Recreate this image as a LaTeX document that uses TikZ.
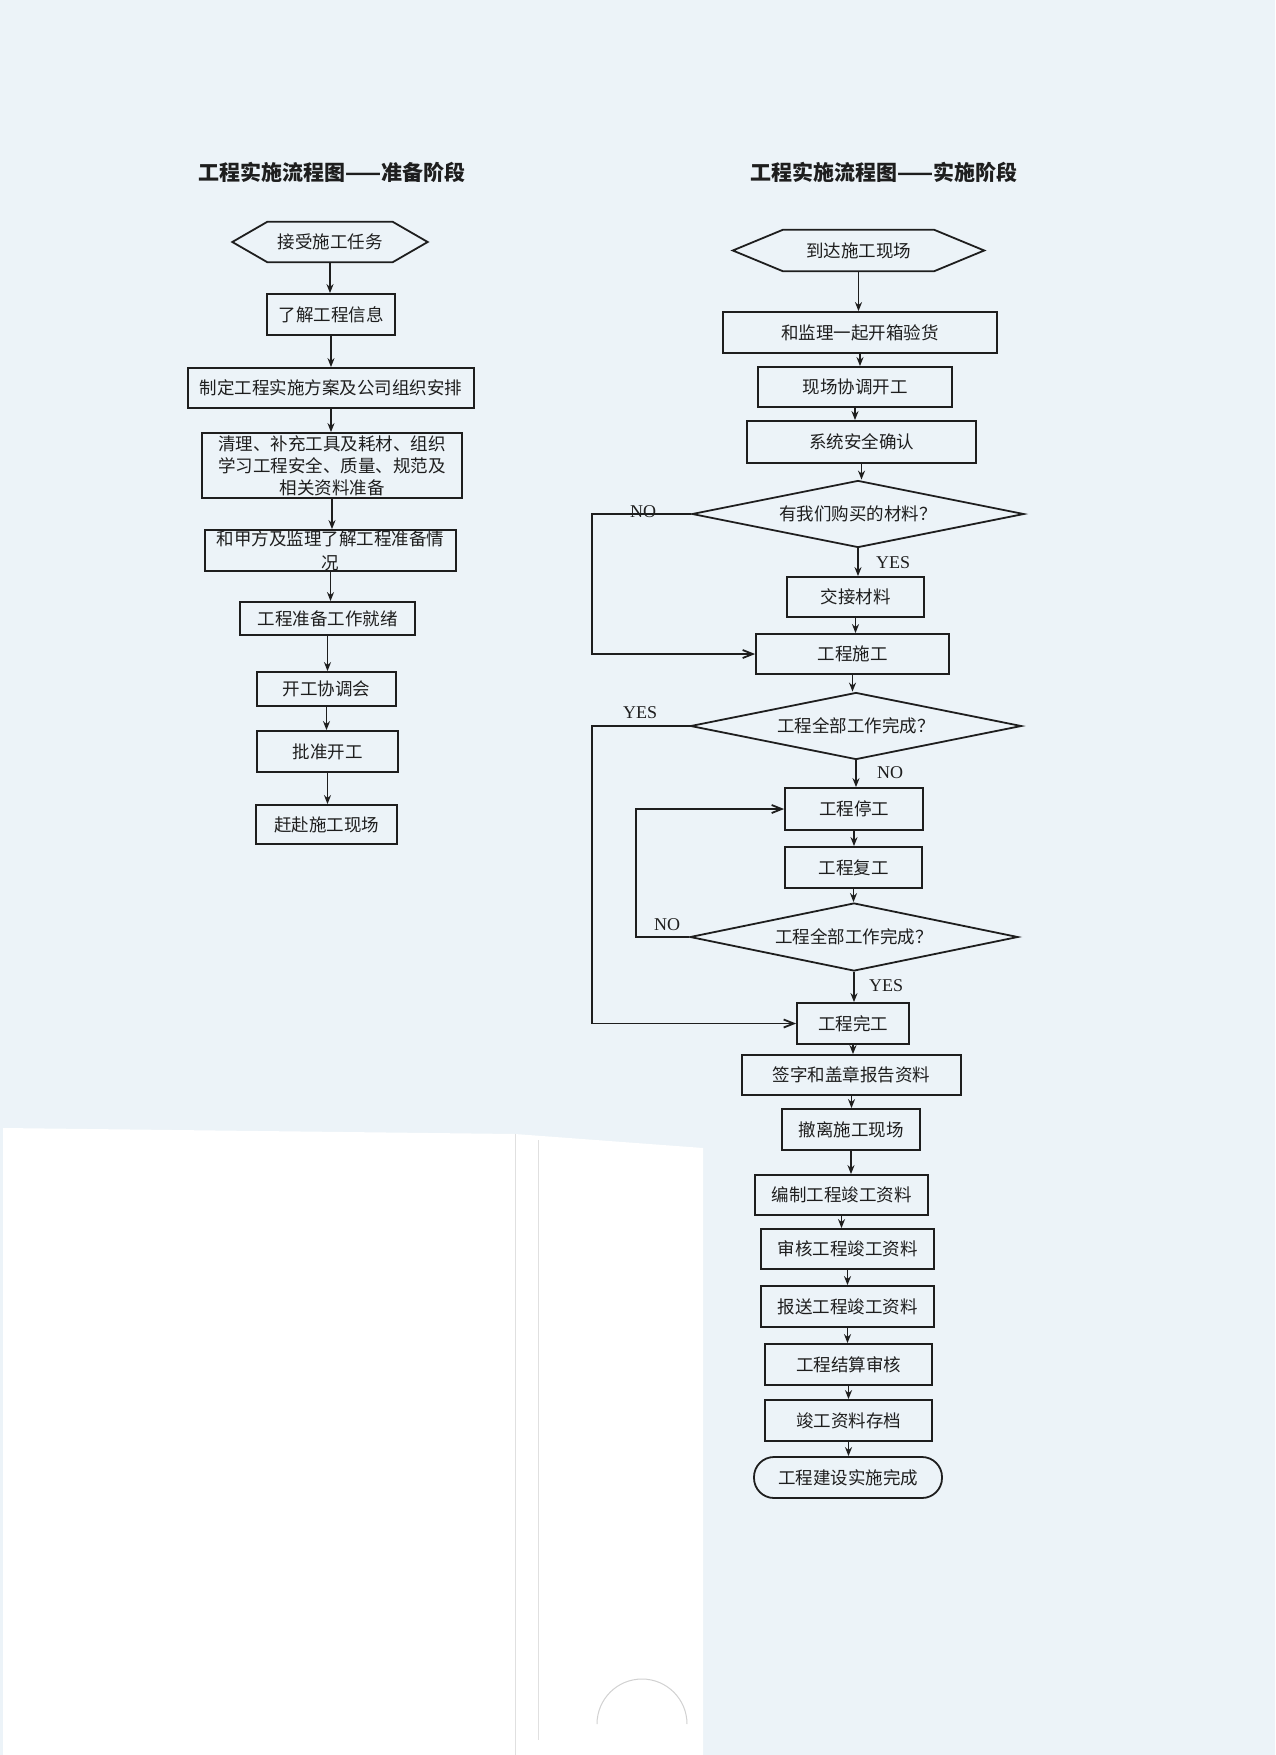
\documentclass[tikz,border=0pt]{standalone}
\usepackage{fontspec}
\setmainfont{Liberation Serif}
\newfontfamily\cjk{Noto Sans CJK SC}
\usepackage{tikz}
\usetikzlibrary{arrows.meta,shapes.geometric,calc}

\definecolor{scanbg}{RGB}{236,243,248}
\definecolor{ink}{RGB}{30,30,30}

\begin{document}
\begin{tikzpicture}[x=1pt,y=-1pt,
  line/.style={draw=ink,line width=1.8pt},
  box/.style={line,rectangle,inner sep=0pt,font=\cjk\fontsize{17.5}{22}\selectfont,text=ink,align=center},
  hexa/.style={rectangle,inner sep=0pt,font=\cjk\fontsize{17.5}{22}\selectfont,text=ink},
  dia/.style={line,diamond,aspect=4.9,inner sep=0pt,font=\cjk\fontsize{17.5}{22}\selectfont,text=ink},
  varr/.style={line,-{Stealth[length=9pt,width=7pt]}},
  harr/.style={line,-{Straight Barb[length=10pt,width=8pt]}},
  yn/.style={font=\fontsize{18}{20}\selectfont,text=ink},
  ttl/.style={font=\cjk\bfseries\fontsize{21}{24}\selectfont,text=ink}]
\useasboundingbox (0,0) rectangle (1275,1755);
% scanned page and the white sheet lying over its lower left
\fill[scanbg] (0,0) rectangle (1275,1755);
\fill[white] (3,1128) -- (515,1134) -- (703,1148) -- (703,1755) -- (3,1755) -- cycle;
\draw[black!12,line width=1pt] (515,1134) -- (515,1755);
\draw[black!12,line width=1pt] (538,1140) -- (538,1740);
\draw[black!18,line width=1pt] (597,1724) arc[start angle=180,end angle=360,radius=45];

% titles
\node[ttl] (tl) at (332,172) {工程实施流程图——准备阶段};
\node[ttl] (tr) at (884,172) {工程实施流程图——实施阶段};

% ---- preparation stage ----
\node[hexa,minimum width=195*1pt,minimum height=40*1pt] (l1) at (330,242) {接受施工任务};
\foreach \n/\x/\y/\w/\h/\t in {
  l2/331/314.5/128/41/{了解工程信息},
  l3/331/388/286/40/{制定工程实施方案及公司组织安排},
  l6/327.5/618.5/175/33/{工程准备工作就绪},
  l7/326.5/689/139/34/{开工协调会},
  l8/327.5/751.5/141/41/{批准开工},
  l9/326.5/824.5/141/39/{赶赴施工现场}}{
  \node[box,minimum width=\w*1pt,minimum height=\h*1pt] (\n) at (\x,\y) {\t};
}
\node[box,minimum width=260*1pt,minimum height=65*1pt] (l4) at (332,465.5)
  {清理、补充工具及耗材、组织\\学习工程安全、质量、规范及\\相关资料准备};
\node[box,minimum width=251*1pt,minimum height=41*1pt,font=\cjk\fontsize{17.5}{24}\selectfont] (l5) at (330.5,550.5)
  {和甲方及监理了解工程准备情\\况};

% ---- implementation stage ----
\node[hexa,minimum width=251*1pt,minimum height=41*1pt] (r1) at (858.5,250.5) {到达施工现场};
\foreach \n/\x/\y/\w/\h/\t in {
  r2/860/332.5/274/41/{和监理一起开箱验货},
  r3/855/387/194/40/{现场协调开工},
  r4/861.5/442/229/42/{系统安全确认},
  r5/855.5/597/137/40/{交接材料},
  r6/852.5/654/193/40/{工程施工},
  r7/854/809/138/42/{工程停工},
  r8/853.5/867.5/137/41/{工程复工},
  r9/853/1023.5/112/41/{工程完工},
  r10/851.5/1075/219/40/{签字和盖章报告资料},
  r11/851/1129.5/138/41/{撤离施工现场},
  r12/841.5/1195/173/40/{编制工程竣工资料},
  r13/847.5/1249/173/40/{审核工程竣工资料},
  r14/847.5/1306.5/173/41/{报送工程竣工资料},
  r15/848.5/1364.5/167/41/{工程结算审核},
  r16/848.5/1420.5/167/41/{竣工资料存档}}{
  \node[box,minimum width=\w*1pt,minimum height=\h*1pt] (\n) at (\x,\y) {\t};
}
\node[box,rounded corners=20pt,minimum width=188*1pt,minimum height=41*1pt] (r17) at (848,1477.5) {工程建设实施完成};
\node[dia,minimum width=332*1pt,minimum height=67*1pt] (d1) at (858,514) {有我们购买的材料？};
\node[dia,minimum width=331*1pt,minimum height=67*1pt] (d2) at (856,726) {工程全部工作完成？};
\node[dia,minimum width=328*1pt,minimum height=68*1pt] (d3) at (854,937) {工程全部工作完成？};

% hexagon outlines
\foreach \n/\d in {l1/35,r1/50}{
  \draw[line] (\n.west) -- ([xshift=\d]\n.north west) -- ([xshift=-\d]\n.north east)
    -- (\n.east) -- ([xshift=-\d]\n.south east) -- ([xshift=\d]\n.south west) -- cycle;
}

% straight flow
\foreach \a/\b in {l1/l2,l2/l3,l3/l4,l4/l5,l5/l6,l6/l7,l7/l8,l8/l9,
  r1/r2,r2/r3,r3/r4,r4/d1,d1/r5,r5/r6,r6/d2,d2/r7,r7/r8,r8/d3,d3/r9,
  r9/r10,r10/r11,r11/r12,r12/r13,r13/r14,r14/r15,r15/r16,r16/r17}{
  \draw[varr] (\a.south) -- (\a.south |- \b.north);
}

% branches
\draw[harr] (d1.west) -- ++(-99,0) |- (r6.west);
\draw[harr] (d2.west) -- ++(-98,0) |- (r9.west);
\draw[harr] (d3.west) -- ++(-53,0) |- (r7.west);

% branch labels
\node[yn] (n1) at (643,512) {NO};
\node[yn] (y1) at (893,563) {YES};
\node[yn] (y2) at (640,713) {YES};
\node[yn] (n2) at (890,773) {NO};
\node[yn] (n3) at (667,925) {NO};
\node[yn] (y3) at (886,986) {YES};
\end{tikzpicture}
\end{document}
